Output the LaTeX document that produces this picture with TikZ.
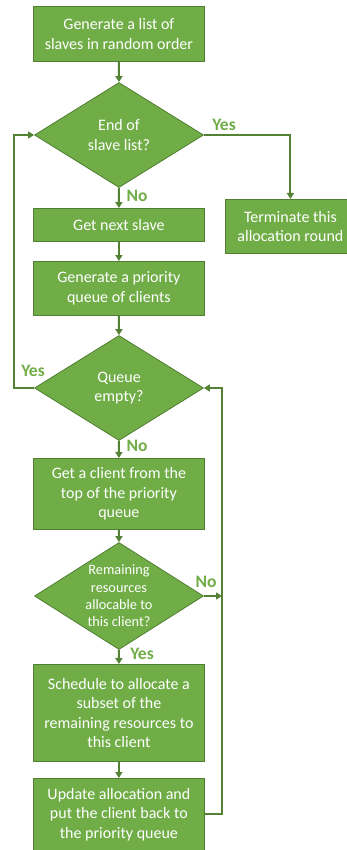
\documentclass[tikz,border=0pt]{standalone}
\usepackage{fontspec}
\setmainfont{Carlito}
\usetikzlibrary{shapes.geometric,arrows.meta}
\definecolor{gfill}{HTML}{70AD47}
\definecolor{gline}{HTML}{548235}
\definecolor{gborder}{HTML}{507E32}
\begin{document}
\begin{tikzpicture}[x=1pt,y=-1pt,
  font=\fontsize{16}{19.5}\selectfont,
  box/.style={draw=gborder,line width=0.8pt,fill=gfill,text=white,align=center,inner sep=0pt,anchor=north west},
  dec/.style={diamond,draw=gborder,line width=0.8pt,fill=gfill,text=white,align=center,inner sep=0pt,minimum width=169pt,minimum height=105pt,aspect=1.6},
  conn/.style={draw=gline,line width=2pt,-{Triangle[length=6pt,width=7pt]}},
  lbl/.style={text=gfill,font=\fontsize{17.5}{20}\selectfont\bfseries,inner sep=0pt}
]
\useasboundingbox (0,0) rectangle (346,850);
\node[box,minimum width=171pt,minimum height=55pt] (b1) at (33,6) {Generate a list of\\slaves in random order};
\node[dec] (d1) at (119,135) {End of\\slave list?};
\node[box,minimum width=130pt,minimum height=54pt] (term) at (225,199) {Terminate this\\allocation round};
\node[box,minimum width=171pt,minimum height=33pt] (next) at (33,208) {Get next slave};
\node[box,minimum width=171pt,minimum height=54pt] (pq) at (33,261) {Generate a priority\\queue of clients};
\node[dec] (d2) at (119,388) {Queue\\empty?};
\node[box,minimum width=171pt,minimum height=71pt] (client) at (33,458) {Get a client from the\\top of the priority\\queue};
\node[dec,minimum height=107pt,font=\fontsize{14.3}{17.3}\selectfont] (d3) at (119,596) {Remaining\\resources\\allocable to\\this client?};
\node[box,minimum width=171pt,minimum height=97pt] (sched) at (33,664) {Schedule to allocate a\\subset of the\\remaining resources to\\this client};
\node[box,minimum width=171pt,minimum height=72pt] (upd) at (33,778) {Update allocation and\\put the client back to\\the priority queue};
\coordinate (lx) at (14,0);
\coordinate (rx) at (222,0);
\draw[conn] (b1.south) -- (d1.north);
\draw[conn] (d1.east) -| (term.north);
\draw[conn] (d1.south) -- (next.north);
\draw[conn] (next.south) -- (pq.north);
\draw[conn] (pq.south) -- (d2.north);
\draw[conn] (d2.west) -- (lx |- d2.west) -- (lx |- d1.west) -- (d1.west);
\draw[conn] (d2.south) -- (client.north);
\draw[conn] (client.south) -- (d3.north);
\draw[conn] (d3.east) -- (rx |- d3.east);
\draw[conn] (d3.south) -- (sched.north);
\draw[conn] (sched.south) -- (upd.north);
\draw[conn] (upd.east) -- (rx |- upd.east) -- (rx |- d2.east) -- (d2.east);
\node[lbl] (y1) at (224,125) {Yes};
\node[lbl] (n1) at (137,196) {No};
\node[lbl] (y2) at (33,371) {Yes};
\node[lbl] (n2) at (137,446) {No};
\node[lbl] (n3) at (206,582) {No};
\node[lbl] (y3) at (142,654) {Yes};
\end{tikzpicture}
\end{document}
